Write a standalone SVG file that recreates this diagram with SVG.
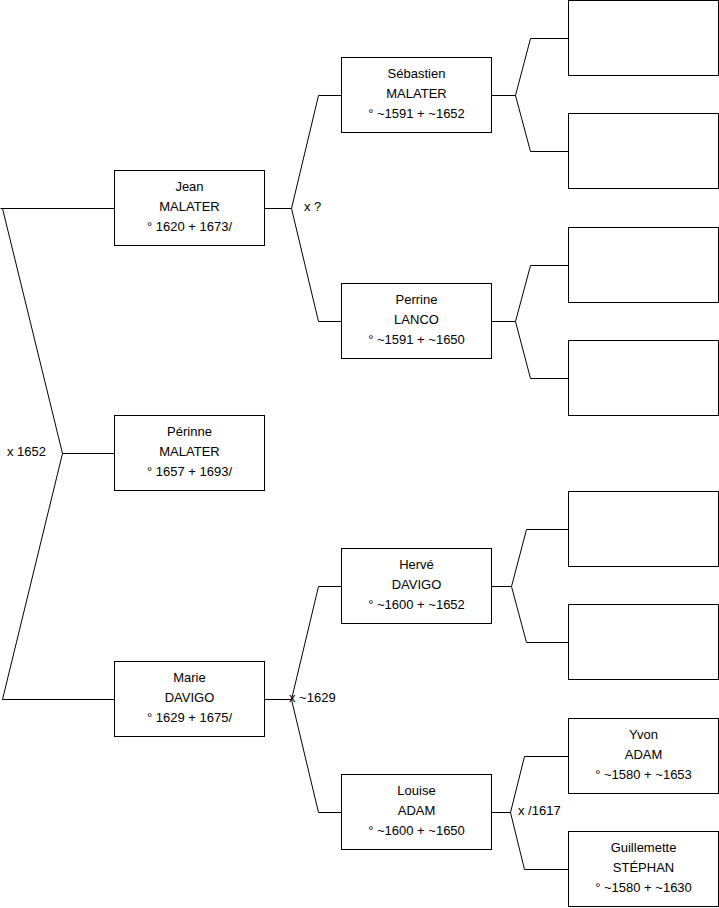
<svg xmlns="http://www.w3.org/2000/svg" width="719" height="908" viewBox="0 0 719 908">
<style>
.box{fill:#fff;stroke:#000;stroke-width:1}
.ln{fill:none;stroke:#000;stroke-width:1}
text{font-family:"Liberation Sans",Arial,sans-serif;font-size:13px;fill:#000}
.c{text-anchor:middle}
</style>
<rect width="719" height="908" fill="#fff"/>
<g id="connectors">
<path class="ln" d="M114.5 208.5H0.5M2.5 208.5L62.5 453.5L2.5 699.5H114.5M62.5 453.5H114.5"/>
<path class="ln" d="M264.5 208.5H291.5M318.5 95.5H341.5M291.5 208.5L318.5 95.5M291.5 208.5L318.5 321.5H341.5"/>
<path class="ln" d="M264.5 699.5H291.5M291.5 699.5L318.5 586.5H341.5M291.5 699.5L318.5 812.5H341.5"/>
<path class="ln" d="M491.5 95.5H515.5L530.5 38.5H568.5M515.5 95.5L530.5 151.5H568.5"/>
<path class="ln" d="M491.5 321.5H515.5L530.5 265.5H568.5M515.5 321.5L530.5 378.5H568.5"/>
<path class="ln" d="M491.5 586.5H511.5L526.5 529.5H568.5M511.5 586.5L526.5 642.5H568.5"/>
<path class="ln" d="M491.5 812.5H510.5L524.5 756.5H568.5M510.5 812.5L524.5 869.5H568.5"/>
<text x="7" y="456">x 1652</text>
<text x="304" y="211">x ?</text>
<text x="289" y="702">x ~1629</text>
<text x="518" y="815">x /1617</text>
</g>
<g id="jean"><rect class="box" x="114.5" y="170.5" width="150" height="75"/><text class="c" x="189.5" y="191">Jean</text><text class="c" x="189.5" y="211">MALATER</text><text class="c" x="189.5" y="231">° 1620 + 1673/</text></g>
<g id="perinne"><rect class="box" x="114.5" y="415.5" width="150" height="75"/><text class="c" x="189.5" y="436">Périnne</text><text class="c" x="189.5" y="456">MALATER</text><text class="c" x="189.5" y="476">° 1657 + 1693/</text></g>
<g id="marie"><rect class="box" x="114.5" y="661.5" width="150" height="75"/><text class="c" x="189.5" y="682">Marie</text><text class="c" x="189.5" y="702">DAVIGO</text><text class="c" x="189.5" y="722">° 1629 + 1675/</text></g>
<g id="sebastien"><rect class="box" x="341.5" y="57.5" width="150" height="75"/><text class="c" x="416.5" y="78">Sébastien</text><text class="c" x="416.5" y="98">MALATER</text><text class="c" x="416.5" y="118">° ~1591 + ~1652</text></g>
<g id="perrine"><rect class="box" x="341.5" y="283.5" width="150" height="75"/><text class="c" x="416.5" y="304">Perrine</text><text class="c" x="416.5" y="324">LANCO</text><text class="c" x="416.5" y="344">° ~1591 + ~1650</text></g>
<g id="herve"><rect class="box" x="341.5" y="548.5" width="150" height="75"/><text class="c" x="416.5" y="569">Hervé</text><text class="c" x="416.5" y="589">DAVIGO</text><text class="c" x="416.5" y="609">° ~1600 + ~1652</text></g>
<g id="louise"><rect class="box" x="341.5" y="774.5" width="150" height="75"/><text class="c" x="416.5" y="795">Louise</text><text class="c" x="416.5" y="815">ADAM</text><text class="c" x="416.5" y="835">° ~1600 + ~1650</text></g>
<g id="empty1"><rect class="box" x="568.5" y="0.5" width="150" height="75"/></g>
<g id="empty2"><rect class="box" x="568.5" y="113.5" width="150" height="75"/></g>
<g id="empty3"><rect class="box" x="568.5" y="227.5" width="150" height="75"/></g>
<g id="empty4"><rect class="box" x="568.5" y="340.5" width="150" height="75"/></g>
<g id="empty5"><rect class="box" x="568.5" y="491.5" width="150" height="75"/></g>
<g id="empty6"><rect class="box" x="568.5" y="604.5" width="150" height="75"/></g>
<g id="yvon"><rect class="box" x="568.5" y="718.5" width="150" height="75"/><text class="c" x="643.5" y="739">Yvon</text><text class="c" x="643.5" y="759">ADAM</text><text class="c" x="643.5" y="779">° ~1580 + ~1653</text></g>
<g id="guillemette"><rect class="box" x="568.5" y="831.5" width="150" height="75"/><text class="c" x="643.5" y="852">Guillemette</text><text class="c" x="643.5" y="872">STÉPHAN</text><text class="c" x="643.5" y="892">° ~1580 + ~1630</text></g>
</svg>
